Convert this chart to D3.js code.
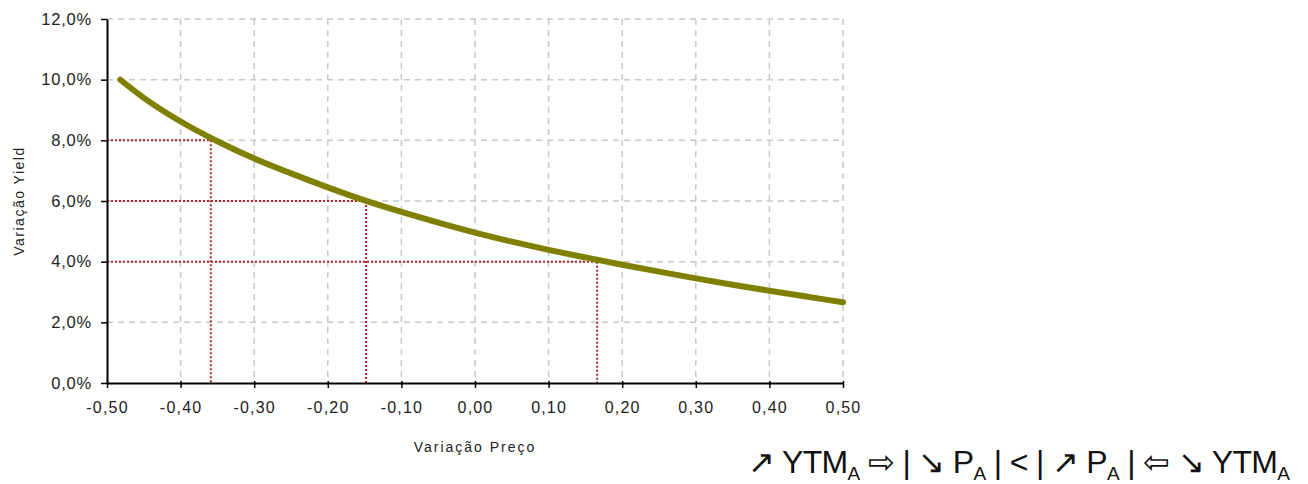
<!DOCTYPE html>
<html>
<head>
<meta charset="utf-8">
<script src="https://cdn.jsdelivr.net/npm/d3@7"></script>
<style>
  body { margin: 0; background: #fff; }
  text { font-family: "Liberation Sans", Arial, sans-serif; }
</style>
</head>
<body>
<svg id="chart" width="1308" height="484"></svg>
<script>
// price change (x) vs yield change (y)
var priceChange = [-0.482, -0.45, -0.40, -0.35, -0.30, -0.25, -0.20, -0.15, -0.10, -0.05, 0.00, 0.05, 0.10, 0.15, 0.20, 0.25, 0.30, 0.35, 0.40, 0.45, 0.50];
var yieldChange = [0.1000, 0.0940, 0.0862, 0.0797, 0.0740, 0.0691, 0.0645, 0.0602, 0.0564, 0.0529, 0.0496, 0.0466, 0.0439, 0.0414, 0.0390, 0.0367, 0.0345, 0.0324, 0.0304, 0.0285, 0.0266];

// red guide lines: [price, yield]
var guidePrice = [-0.359, -0.148, 0.166];
var guideYield = [0.08, 0.06, 0.04];

var xTicks = [-0.5, -0.4, -0.3, -0.2, -0.1, 0, 0.1, 0.2, 0.3, 0.4, 0.5];
var yTicks = [0, 0.02, 0.04, 0.06, 0.08, 0.10, 0.12];

var margin = {top: 19, right: 465, bottom: 101, left: 107};
var width = 1308 - margin.left - margin.right,
    height = 484 - margin.top - margin.bottom;

var svg = d3.select("#chart");
var g = svg.append("g")
  .attr("transform", "translate(" + margin.left + "," + margin.top + ")");

var x = d3.scaleLinear().domain([-0.5, 0.5]).range([0, width]);
var y = d3.scaleLinear().domain([0, 0.12]).range([height, 0]);

var fmtX = function(d) { return d3.format(".2f")(d).replace("−", "-").replace(".", ","); };
var fmtY = function(d) { return d3.format(".1f")(d * 100).replace(".", ",") + "%"; };

// grid
g.append("g").selectAll("line")
  .data(xTicks.slice(1))
  .enter().append("line")
  .attr("x1", function(d) { return x(d); })
  .attr("x2", function(d) { return x(d); })
  .attr("y1", 0).attr("y2", height)
  .attr("stroke", "#c8c8c8").attr("stroke-width", 1.5)
  .attr("stroke-dasharray", "6,5");

g.append("g").selectAll("line")
  .data(yTicks.slice(1))
  .enter().append("line")
  .attr("x1", 0).attr("x2", width)
  .attr("y1", function(d) { return y(d); })
  .attr("y2", function(d) { return y(d); })
  .attr("stroke", "#c8c8c8").attr("stroke-width", 1.5)
  .attr("stroke-dasharray", "6,5");

// red guides
var guides = guidePrice.map(function(p, i) { return {p: p, yv: guideYield[i]}; });
var guideG = g.append("g")
  .attr("stroke", "#b02a2a").attr("stroke-width", 2)
  .attr("stroke-dasharray", "2,2");
guideG.selectAll(".h").data(guides).enter().append("line")
  .attr("x1", 0).attr("x2", function(d) { return x(d.p); })
  .attr("y1", function(d) { return y(d.yv); })
  .attr("y2", function(d) { return y(d.yv); });
guideG.selectAll(".v").data(guides).enter().append("line")
  .attr("x1", function(d) { return x(d.p); })
  .attr("x2", function(d) { return x(d.p); })
  .attr("y1", function(d) { return y(d.yv); })
  .attr("y2", height);

// curve
var pts = priceChange.map(function(p, i) { return [p, yieldChange[i]]; });
g.append("path")
  .datum(pts)
  .attr("fill", "none")
  .attr("stroke", "#808000")
  .attr("stroke-width", 6)
  .attr("stroke-linecap", "round")
  .attr("d", d3.line()
    .x(function(d) { return x(d[0]); })
    .y(function(d) { return y(d[1]); })
    .curve(d3.curveMonotoneX));

// axes
var xAxis = g.append("g")
  .attr("transform", "translate(0," + height + ")")
  .call(d3.axisBottom(x).tickValues(xTicks).tickFormat(fmtX).tickSize(5).tickSizeOuter(0).tickPadding(14));
xAxis.select(".domain").attr("stroke-width", 2);
xAxis.selectAll(".tick line").attr("stroke-width", 1.5).attr("y1", -2);
xAxis.selectAll("text").attr("font-size", "16px").attr("letter-spacing", "1.2px").attr("fill", "#222");

var yAxis = g.append("g")
  .call(d3.axisLeft(y).tickValues(yTicks).tickFormat(fmtY).tickSize(6).tickSizeOuter(0).tickPadding(9));
yAxis.select(".domain").attr("stroke-width", 2);
yAxis.selectAll(".tick line").attr("stroke-width", 1.5);
yAxis.selectAll("text").attr("font-size", "16.5px").attr("letter-spacing", "0.8px").attr("fill", "#222");

// axis titles
svg.append("text")
  .attr("x", margin.left + width / 2)
  .attr("y", 452)
  .attr("text-anchor", "middle")
  .attr("font-size", "14px")
  .attr("letter-spacing", "2px")
  .attr("fill", "#222")
  .text("Variação Preço");

svg.append("text")
  .attr("transform", "translate(24,201) rotate(-90)")
  .attr("text-anchor", "middle")
  .attr("font-size", "14px")
  .attr("letter-spacing", "1.5px")
  .attr("fill", "#222")
  .text("Variação Yield");

// formula
var f = svg.append("text")
  .attr("x", 748)
  .attr("y", 473)
  .attr("font-size", "32px")
  .attr("textLength", 542)
  .attr("lengthAdjust", "spacing")
  .attr("fill", "#111");
var parts = [
  ["\u2197 YTM", false], ["A", true], [" \u21E8 | \u2198 P", false], ["A", true],
  [" | < | \u2197 P", false], ["A", true], [" | \u21E6 \u2198 YTM", false], ["A", true]
];
parts.forEach(function(p) {
  f.append("tspan")
    .attr("font-size", p[1] ? "19px" : "32px")
    .attr("dy", p[1] ? 7 : -7)
    .text(p[0]);
});
f.select("tspan").attr("dy", 0);
</script>
</body>
</html>
